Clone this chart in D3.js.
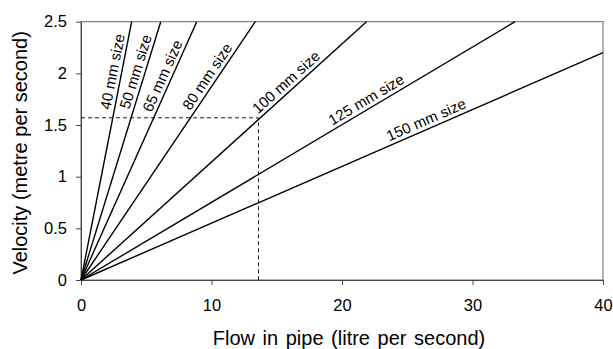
<!DOCTYPE html>
<html><head><meta charset="utf-8">
<script src="https://cdn.jsdelivr.net/npm/d3@7/dist/d3.min.js"></script>
<style>
body{margin:0;background:#fff;}
text{font-family:"Liberation Sans",Arial,sans-serif;fill:#000;}
</style></head>
<body><svg id="chart" width="613" height="349"></svg>
<script>
// Pipe sizes and where each line leaves the plot (flow L/s, velocity m/s)
const sizes = ["40 mm size","50 mm size","65 mm size","80 mm size","100 mm size","125 mm size","150 mm size"];
const endFlow = [3.88, 6.11, 8.87, 13.36, 21.88, 33.26, 40];
const endVel  = [2.5, 2.5, 2.5, 2.5, 2.5, 2.5, 2.2];
const labelVel = [2.0, 1.99, 1.94, 1.92, 1.85, 1.67, 1.47];
const xTicks = [0,10,20,30,40];
const yTicks = [0,0.5,1,1.5,2,2.5];
const refFlow = 13.6, refVel = 1.57;

const svg = d3.select("#chart");
const L=81, R=603, T=21.7, B=280;
const x = d3.scaleLinear().domain([0,40]).range([L,R]);
const y = d3.scaleLinear().domain([0,2.5]).range([B,T]);

// frame
svg.append("rect").attr("x",L).attr("y",T).attr("width",R-L).attr("height",B-T)
  .attr("fill","none").attr("stroke","#666").attr("stroke-width",1);

// axes
const xa = svg.append("g").attr("transform",`translate(0,${B})`)
  .call(d3.axisBottom(x).tickValues(xTicks).tickFormat(d3.format("d")).tickSize(5).tickSizeOuter(0));
const ya = svg.append("g").attr("transform",`translate(${L},0)`)
  .call(d3.axisLeft(y).tickValues(yTicks).tickFormat(d=>String(d)).tickSize(5).tickSizeOuter(0));
[xa,ya].forEach(a=>{
  a.select(".domain").attr("stroke","#444");
  a.selectAll(".tick line").attr("stroke","#444");
  a.selectAll("text").style("font-size","16.5px").style("font-family","'Liberation Sans',Arial,sans-serif").attr("fill","#000");
});
xa.selectAll("text").attr("y",31).attr("dy","0");
ya.selectAll("text").attr("x",-14);

// dashed reference
svg.append("path").attr("d",`M${x(0)},${y(refVel)}H${x(refFlow)}V${y(0)}`)
  .attr("fill","none").attr("stroke","#000").attr("stroke-width",0.9).attr("stroke-dasharray","4,3");

// lines
sizes.forEach((s,i)=>{
  svg.append("line").attr("x1",x(0)).attr("y1",y(0)).attr("x2",x(endFlow[i])).attr("y2",y(endVel[i]))
    .attr("stroke","#000").attr("stroke-width",1.4);
  const slope = endVel[i]/endFlow[i];
  const v = labelVel[i], q = v/slope;
  const ang = Math.atan2(y(endVel[i])-y(0), x(endFlow[i])-x(0))*180/Math.PI;
  svg.append("text").attr("transform",`translate(${x(q)},${y(v)}) rotate(${ang})`)
    .attr("text-anchor","middle").attr("dy","-4").style("font-size","15px").text(s);
});

// axis titles
svg.append("text").attr("x",349).attr("y",345).attr("text-anchor","middle").style("font-size","20px")
  .style("word-spacing","2px").text("Flow in pipe (litre per second)");
svg.append("text").attr("transform",`translate(27,${(T+B)/2+2}) rotate(-90)`).attr("text-anchor","middle").style("font-size","20px")
  .text("Velocity (metre per second)");
</script></body></html>
